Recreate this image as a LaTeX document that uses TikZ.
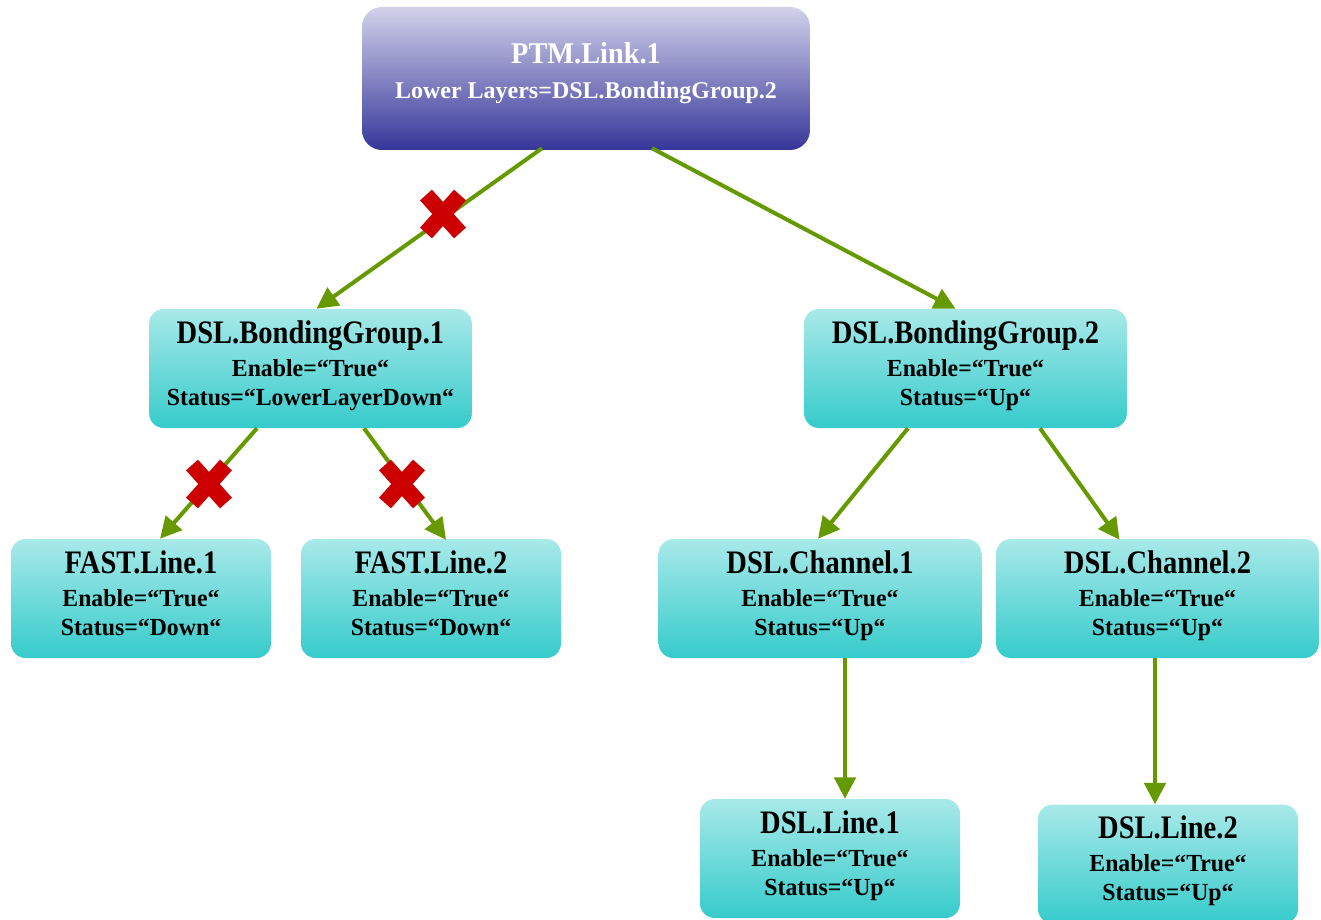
\documentclass[tikz,border=0pt]{standalone}
\usepackage{fontspec}
\setmainfont{Liberation Serif}
\newfontfamily\ttlfont{Liberation Serif}[FakeStretch=0.87]
\newfontfamily\ptmfont{Liberation Serif}[FakeStretch=0.94]
\newfontfamily\bodyfont{Liberation Serif}[FakeStretch=0.97]
\usetikzlibrary{arrows.meta,calc}
\definecolor{cyantop}{HTML}{A9E9E9}
\definecolor{cyanbot}{HTML}{36CBCB}
\definecolor{ptmtop}{HTML}{D2D2EA}
\definecolor{ptmbot}{HTML}{36369A}
\definecolor{arrowgreen}{HTML}{669900}
\definecolor{crossred}{HTML}{CC0000}
\tikzset{
  box/.style={rounded corners=11pt, shade, top color=cyantop, bottom color=cyanbot,
    minimum height=89.25pt, align=center, inner sep=0pt, text depth=8.5pt,
    font=\bodyfont\bfseries\fontsize{18.4}{21.75}\selectfont},
  widebox/.style={box, minimum width=242pt},
  narrowbox/.style={box, minimum width=195pt},
  ptmbox/.style={rounded corners=15pt, shade, top color=ptmtop, bottom color=ptmbot,
    minimum width=336pt, minimum height=107.25pt, align=center, inner sep=0pt,
    text=white, text depth=12pt, font=\bfseries\fontsize{18}{22.5}\selectfont},
  conn/.style={draw=arrowgreen, line width=3pt,
    -{Triangle[length=16pt,width=16pt,fill=arrowgreen]}},
  xmark/.pic={\draw[crossred, line width=12pt] (-17,-19)--(17,19) (-17,19)--(17,-19);}
}
\newcommand\ttl[1]{{\ttlfont\bfseries\fontsize{24.6}{22.5}\selectfont #1}}
\newcommand\ptmttl[1]{{\ptmfont\bfseries\fontsize{22.6}{22.5}\selectfont #1}}
\begin{document}
\begin{tikzpicture}[x=0.75pt, y=-0.75pt]
\useasboundingbox (0,0) rectangle (1321,920);
\node[ptmbox] (ptm) at (586,78.5) {\ptmttl{PTM.Link.1}\\[3.75pt]Lower Layers=DSL.BondingGroup.2};
\node[widebox] (bg1) at (310.5,368.5) {\ttl{DSL.BondingGroup.1}\\[3pt]Enable=“True“\\Status=“LowerLayerDown“};
\node[widebox] (bg2) at (965.5,368.5) {\ttl{DSL.BondingGroup.2}\\[3pt]Enable=“True“\\Status=“Up“};
\node[narrowbox] (f1) at (141,598.5) {\ttl{FAST.Line.1}\\[3pt]Enable=“True“\\Status=“Down“};
\node[narrowbox] (f2) at (431,598.5) {\ttl{FAST.Line.2}\\[3pt]Enable=“True“\\Status=“Down“};
\node[widebox] (c1) at (820,598.5) {\ttl{DSL.Channel.1}\\[3pt]Enable=“True“\\Status=“Up“};
\node[widebox] (c2) at (1157.5,598.5) {\ttl{DSL.Channel.2}\\[3pt]Enable=“True“\\Status=“Up“};
\node[narrowbox] (l1) at (830,858.5) {\ttl{DSL.Line.1}\\[3pt]Enable=“True“\\Status=“Up“};
\node[narrowbox] (l2) at (1168,864) {\ttl{DSL.Line.2}\\[3pt]Enable=“True“\\Status=“Up“};
\draw[conn] ($(ptm.south)+(-44,-2)$) -- ($(bg1.north)+(6,0)$);
\draw[conn] ($(ptm.south)+(66,-2)$) -- ($(bg2.north)+(-10,0)$);
\draw[conn] ($(bg1.south)+(-53.5,0)$) -- ($(f1.north)+(19,0)$);
\draw[conn] ($(bg1.south)+(53.5,0)$) -- ($(f2.north)+(15,1)$);
\draw[conn] ($(bg2.south)+(-57.5,0)$) -- ($(c1.north)+(-2,0)$);
\draw[conn] ($(bg2.south)+(74.5,0)$) -- ($(c2.north)+(-38,1)$);
\draw[conn] ($(c1.south)+(25,0)$) -- ($(l1.north)+(15,0)$);
\draw[conn] ($(c2.south)+(-2.5,0)$) -- ($(l2.north)+(-13,0)$);
\pic at (443,214) {xmark};
\pic at (209,484) {xmark};
\pic at (402,484) {xmark};
\end{tikzpicture}
\end{document}
